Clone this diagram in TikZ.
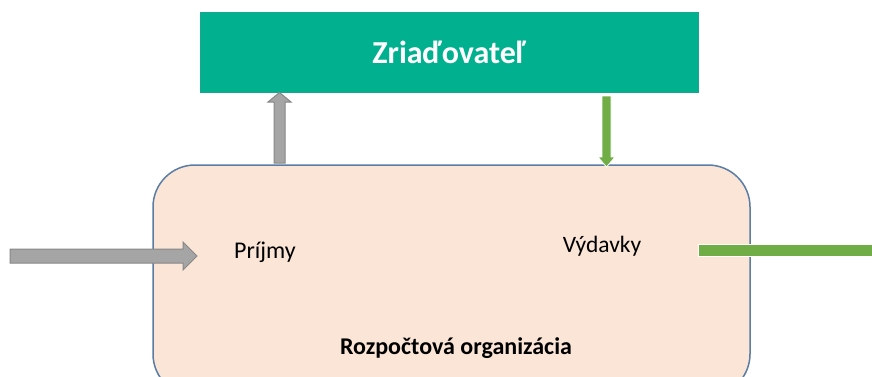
\documentclass[tikz,border=0pt]{standalone}
\usepackage{fontspec}
\setmainfont{Carlito}
\definecolor{zrgreen}{RGB}{0,176,143}
\definecolor{peach}{RGB}{251,229,214}
\definecolor{boxborder}{RGB}{90,125,165}
\definecolor{arrgray}{RGB}{165,165,165}
\definecolor{arrgrayb}{RGB}{135,135,135}
\definecolor{arrgreen}{RGB}{112,173,71}
\tikzset{
  grayarrow/.style={fill=arrgray,draw=arrgrayb,line width=1pt,line join=miter},
  greenarrow/.style={fill=arrgreen,draw=white,line width=0.8pt},
  lbl/.style={inner sep=0pt,anchor=base}
}
\begin{document}
\begin{tikzpicture}[x=1pt,y=-1pt]
\useasboundingbox (0,0) rectangle (872,376);
\clip (0,0) rectangle (872,376);
% organization box
\draw[fill=peach,draw=boxborder,line width=1.5pt,rounded corners=42pt] (153,165) rectangle (750,396);
\node[inner sep=0pt] (ro) at (451.5,281) {};
% founder box
\node[fill=zrgreen,draw=zrgreen!80!gray,line width=0.4pt,minimum width=498pt,minimum height=80pt,inner sep=0pt] (zr) at (449,52)
  {\fontsize{32}{38}\selectfont\bfseries\color{white}Zriaďovateľ};
% labels
\node[lbl] (pr) at (265,258) {\fontsize{24}{28}\selectfont Príjmy};
\node[lbl] (vy) at (602,252) {\fontsize{23.5}{28}\selectfont Výdavky};
\node[lbl] (rn) at (456,354) {\fontsize{24}{28}\selectfont\bfseries Rozpočtová organizácia};
% left gray arrow
\draw[grayarrow] (10,249) -- (183,249) -- (183,242) -- (197,256) -- (183,270) -- (183,263) -- (10,263) -- cycle;
% up gray arrow
\draw[grayarrow] (274,163) -- (274,102) -- (268,102) -- (279.5,92.5) -- (291,102) -- (285,102) -- (285,163) -- cycle;
% down green arrow
\draw[greenarrow] (602,96) -- (611,96) -- (611,157) -- (615,157) -- (606.5,167) -- (598,157) -- (602,157) -- cycle;
% right green arrow
\draw[greenarrow] (698.5,244.5) rectangle (880,256.5);
\end{tikzpicture}
\end{document}
